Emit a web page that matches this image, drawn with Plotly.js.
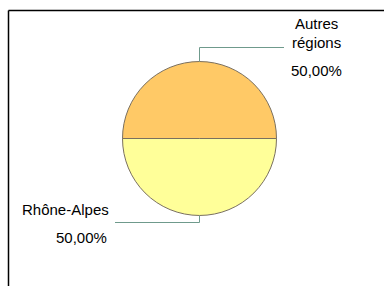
<!DOCTYPE html>
<html>
<head>
<meta charset="utf-8">
<script src="https://cdn.plot.ly/plotly-3.0.1.min.js"></script>
<style>html,body{margin:0;padding:0;background:#fff;}#chart{width:384px;height:286px;}</style>
</head>
<body>
<div id="chart"></div>
<script>
var categories = ["Autres régions", "Rhône-Alpes"];
var values = [50, 50];
var percentLabels = ["50,00%", "50,00%"];
var colors = ["#FFC966", "#FFFF99"];

var W = 384, H = 286;
function px(x){ return x / W; }
function py(y){ return 1 - y / H; }

var cx = 199.5, cy = 138.5, r = 77;

var trace = {
  type: "pie",
  labels: categories,
  values: values,
  sort: false,
  direction: "clockwise",
  rotation: 270,
  textinfo: "none",
  hoverinfo: "none",
  marker: { colors: colors, line: { color: "#7a7060", width: 1 } },
  domain: { x: [px(cx - r), px(cx + r)], y: [py(cy + r), py(cy - r)] },
  showlegend: false
};

var lineColor = "#6f9a8c";
var font = { family: "Liberation Sans, Arial, sans-serif", size: 15, color: "#000" };

function hline(x0, x1, y) {
  return { type: "line", xref: "paper", yref: "paper", x0: px(x0), x1: px(x1), y0: py(y), y1: py(y), line: { color: lineColor, width: 1 } };
}
function vline(x, y0, y1) {
  return { type: "line", xref: "paper", yref: "paper", x0: px(x), x1: px(x), y0: py(y0), y1: py(y1), line: { color: lineColor, width: 1 } };
}
function label(x, y, text, anchor) {
  return { xref: "paper", yref: "paper", x: px(x), y: py(y), text: text, showarrow: false, font: font, xanchor: anchor, yanchor: "middle" };
}

var layout = {
  width: W, height: H,
  margin: { l: 0, r: 0, t: 0, b: 0 },
  paper_bgcolor: "#fff",
  showlegend: false,
  shapes: [
    { type: "line", xref: "paper", yref: "paper", x0: px(8.5), x1: px(384), y0: py(10.5), y1: py(10.5), line: { color: "#000", width: 1.5 } },
    { type: "line", xref: "paper", yref: "paper", x0: px(8.5), x1: px(8.5), y0: py(10.5), y1: py(286), line: { color: "#000", width: 1.5 } },
    vline(199.5, 61.5, 47.5),
    hline(199.5, 284, 47.5),
    vline(199.5, 215.5, 222.5),
    hline(199.5, 115, 222.5)
  ],
  annotations: [
    label(316, 23, "Autres", "center"),
    label(316, 43, "régions", "center"),
    label(316, 70, percentLabels[0], "center"),
    label(111, 209, "Rhône-Alpes", "right"),
    label(109, 237, percentLabels[1], "right")
  ]
};

Plotly.newPlot("chart", [trace], layout, { staticPlot: true, displayModeBar: false });
</script>
</body>
</html>
